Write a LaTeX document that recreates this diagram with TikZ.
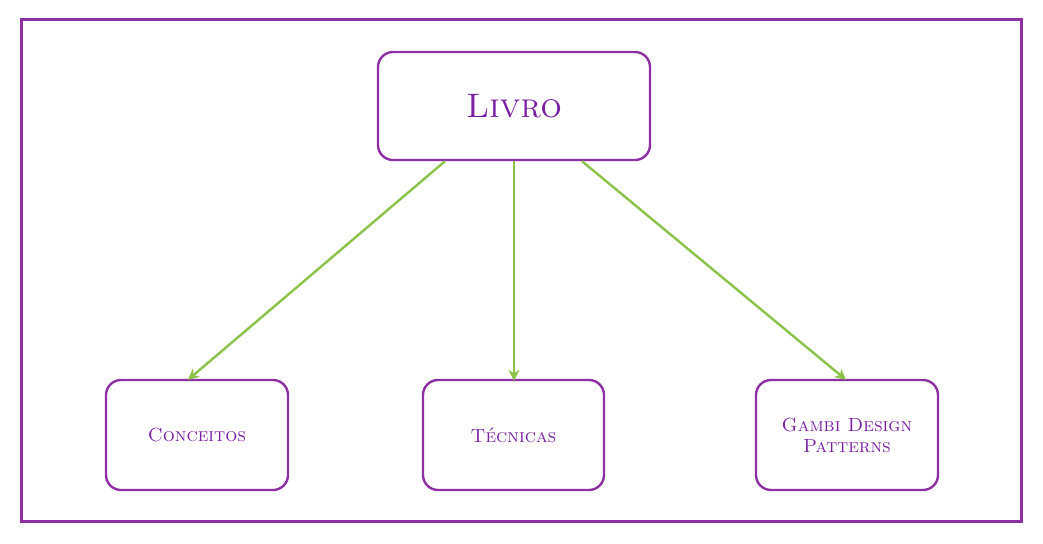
\documentclass[tikz,border=0pt]{standalone}
\usetikzlibrary{arrows.meta}
\definecolor{frame}{HTML}{8E2FA3}
\definecolor{txt}{HTML}{7B1FA2}
\definecolor{arr}{HTML}{8BC34A}
\tikzset{
  box/.style={draw=frame, line width=2.4pt, rounded corners=15pt, fill=white,
    inner sep=0pt, align=center, text=txt, font=\scshape\fontsize{19}{21}\selectfont},
  link/.style={draw=arr, line width=2.4pt, -{Stealth[length=11pt,width=11pt]}}
}
\begin{document}
\begin{tikzpicture}[x=1pt,y=-1pt]
\useasboundingbox (0,0) rectangle (1043,543);
\draw[frame, line width=3pt] (21,20) rectangle (1021,521);
\node[box, minimum width=272pt, minimum height=108pt, font=\scshape\fontsize{34}{34}\selectfont] (livro) at (514,106) {Livro};
\node[box, minimum width=182pt, minimum height=110pt] (conc) at (197,435) {Conceitos};
\node[box, minimum width=181pt, minimum height=110pt] (tec) at (513.5,435) {Técnicas};
\node[box, minimum width=182pt, minimum height=110pt] (gambi) at (847,435) {Gambi Design\\Patterns};
\draw[link] ([xshift=-69pt]livro.south) -- ([xshift=-9pt,yshift=-1pt]conc.north);
\draw[link] (livro.south) -- ([xshift=0.5pt,yshift=-2pt]tec.north);
\draw[link] ([xshift=68pt]livro.south) -- ([xshift=-1pt,yshift=-1pt]gambi.north);
\end{tikzpicture}
\end{document}
